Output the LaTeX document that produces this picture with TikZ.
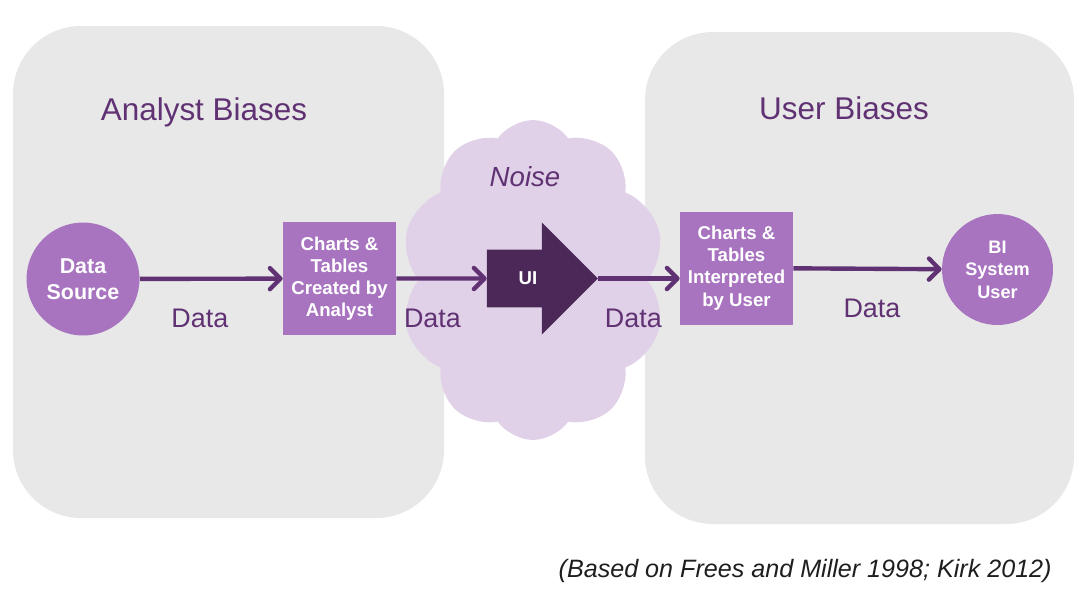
\documentclass[tikz,border=0pt]{standalone}
\usepackage{fontspec}
\setmainfont{Liberation Sans}
\usetikzlibrary{arrows.meta,shapes.symbols,shapes.arrows,positioning}

\definecolor{panelgrey}{RGB}{232,232,232}
\definecolor{noiselilac}{RGB}{225,209,232}
\definecolor{boxpurple}{RGB}{168,116,192}
\definecolor{uipurple}{RGB}{76,40,89}
\definecolor{inkpurple}{RGB}{96,50,115}
\definecolor{captiongrey}{RGB}{30,30,30}

\tikzset{
	panel/.style={fill=panelgrey, rounded corners=1.36cm},
	stage/.style={rectangle, fill=boxpurple, text=white, align=center,
		font=\bfseries\fontsize{10.6}{12.6}\selectfont,
		minimum width=2.26cm, minimum height=2.26cm, inner sep=1pt},
	actor/.style={circle, fill=boxpurple, text=white, align=center, inner sep=0pt},
	flow/.style={draw=inkpurple, line width=2.5pt, -{Straight Barb[length=6pt,width=12pt,round]}},
	datalbl/.style={anchor=base, yshift=-0.98cm, text=inkpurple, font=\fontsize{15.3}{18}\selectfont},
	heading/.style={anchor=base, text=inkpurple, font=\fontsize{17.9}{21}\selectfont},
}

\begin{document}
\begin{tikzpicture}[x=0.02cm, y=-0.02cm]
	\useasboundingbox (0,0) rectangle (1084,600);

	\fill[panel] (13,26) rectangle (444,518);
	\fill[panel] (645,32) rectangle (1074,524);
	\node[heading] (analyst) at (204,120) {Analyst Biases};
	\node[heading] (user) at (844,119) {User Biases};

	\node[cloud, cloud puffs=10, cloud puff arc=110, aspect=0.8, fill=noiselilac, inner sep=0pt,
		minimum width=5.3cm, minimum height=6.4cm] (noise) at (533,280) {};
	\node[anchor=base, text=inkpurple, font=\itshape\fontsize{15.7}{18}\selectfont]
		(noisetxt) at (525,186) {Noise};

	\node[actor, minimum size=2.26cm, font=\bfseries\fontsize{12.2}{15.1}\selectfont]
		(src) at (83,279) {Data\\Source};
	\node[stage] (made) at (339.5,278.5) {Charts \&\\Tables\\Created by\\Analyst};
	\node[single arrow, fill=uipurple, text=white, inner xsep=0pt, inner ysep=0.44cm,
		font=\bfseries\fontsize{10.6}{12}\selectfont,
		minimum width=2.24cm, minimum height=2.22cm, single arrow head extend=0.54cm]
		(ui) at (528,278.5) {UI};
	\node[stage] (read) at (736.5,268) {Charts \&\\Tables\\Interpreted\\by User};
	\node[actor, minimum size=2.22cm, font=\bfseries\fontsize{10.3}{12.8}\selectfont]
		(bi) at (997.5,269.5) {BI\\System\\User};

	\draw[flow] (src) -- node[datalbl, pos=0.42] (lbla) {Data} (made);
	\draw[flow] (made) -- node[datalbl, pos=0.4] (lblb) {Data} (ui);
	\draw[flow] (ui.tip) -- node[datalbl, pos=0.43] (lblc) {Data} (ui.tip -| read.west);
	\draw[flow] (read) -- node[datalbl, pos=0.53] (lbld) {Data} (bi);

	\node[anchor=base east, inner sep=0pt, text=captiongrey, font=\itshape\fontsize{14.3}{17}\selectfont]
		(source) at (1052,577) {(Based on Frees and Miller 1998; Kirk 2012)};
\end{tikzpicture}
\end{document}
